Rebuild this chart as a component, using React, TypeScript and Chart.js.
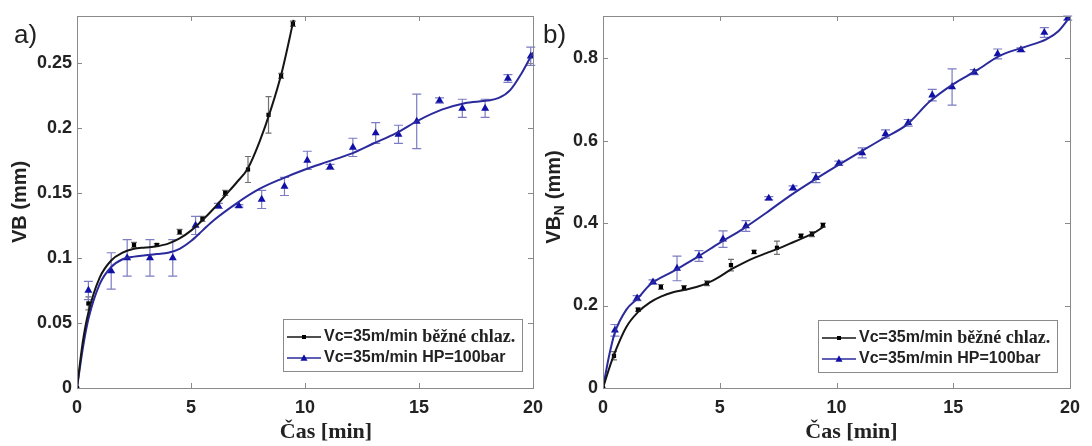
import React, { useEffect, useRef } from 'react';
import { Chart, registerables } from 'chart.js';

Chart.register(...registerables);

const SANS = "'Liberation Sans', Arial, Helvetica, sans-serif";
const SERIF = "'Liberation Serif', 'Times New Roman', serif";

// ---- text ----
const seriesNames = ['Vc=35m/min běžné chlaz.', 'Vc=35m/min HP=100bar'];
const xTitle = 'Čas [min]';
const aYTitle = ['VB', '', ' (mm)'];
const bYTitle = ['VB', 'N', ' (mm)'];
const panelLabels = ['a)', 'b)'];

// ---- ticks ----
const xTicks = [0, 5, 10, 15, 20];
const aYTicks = [0, 0.05, 0.1, 0.15, 0.2, 0.25];
const bYTicks = [0, 0.2, 0.4, 0.6, 0.8];

// ---- panel a: conventional cooling (black) ----
const aBlackX = [0, 0.5, 2.5, 3.5, 4.5, 5.5, 6.5, 7.5, 8.4, 8.95, 9.47];
const aBlackY = [0, 0.065, 0.11, 0.11, 0.12, 0.13, 0.15, 0.168, 0.21, 0.24, 0.28];
const aBlackErr = [0, 0.005, 0.002, 0.001, 0.002, 0.002, 0.002, 0.01, 0.014, 0.002, 0.002];
const aBlackFitX = [0, 0.25, 0.5, 1, 1.5, 2, 2.5, 3, 3.5, 4, 4.5, 5, 5.5, 6, 6.5, 7, 7.5, 8, 8.5, 9, 9.5];
const aBlackFitY = [0, 0.035, 0.058, 0.085, 0.098, 0.104, 0.107, 0.108, 0.109, 0.111, 0.115, 0.121, 0.129, 0.138, 0.148, 0.158, 0.169, 0.189, 0.214, 0.244, 0.283];

// ---- panel a: HP=100bar (blue) ----
const aBlueX = [0, 0.5, 1.5, 2.2, 3.2, 4.2, 5.2, 6.2, 7.1, 8.1, 9.1, 10.1, 11.1, 12.1, 13.1, 14.1, 14.9, 15.9, 16.9, 17.9, 18.9, 19.9];
const aBlueY = [0, 0.075, 0.09, 0.1, 0.1, 0.1, 0.125, 0.14, 0.14, 0.145, 0.155, 0.175, 0.17, 0.185, 0.196, 0.195, 0.205, 0.221, 0.215, 0.215, 0.238, 0.255];
const aBlueErr = [0, 0.007, 0.014, 0.014, 0.014, 0.014, 0.007, 0.002, 0.001, 0.007, 0.007, 0.007, 0.002, 0.007, 0.008, 0.007, 0.021, 0.002, 0.007, 0.007, 0.003, 0.007];
const aBlueFitX = [0, 0.25, 0.5, 1, 1.5, 2, 2.5, 3, 3.5, 4, 4.5, 5, 5.5, 6, 7, 8, 9, 10, 11, 12, 13, 14, 15, 16, 17, 18, 18.5, 19, 19.5, 20];
const aBlueFitY = [0, 0.03, 0.053, 0.08, 0.093, 0.099, 0.101, 0.102, 0.103, 0.104, 0.107, 0.113, 0.121, 0.129, 0.142, 0.153, 0.161, 0.168, 0.174, 0.18, 0.188, 0.196, 0.206, 0.214, 0.219, 0.221, 0.223, 0.229, 0.242, 0.258];

// ---- panel b: conventional cooling (black) ----
const bBlackX = [0, 0.47, 1.5, 2.48, 3.47, 4.45, 5.48, 6.47, 7.45, 8.48, 8.95, 9.42];
const bBlackY = [0, 0.078, 0.19, 0.245, 0.243, 0.254, 0.298, 0.33, 0.34, 0.369, 0.373, 0.395];
const bBlackErr = [0, 0.01, 0.004, 0.006, 0.005, 0.006, 0.014, 0.004, 0.016, 0.004, 0.006, 0.005];
const bBlackFitX = [0, 0.25, 0.5, 1, 1.5, 2, 2.5, 3, 3.5, 4, 4.5, 5, 5.5, 6, 6.5, 7, 7.5, 8, 8.5, 9, 9.5];
const bBlackFitY = [0, 0.045, 0.085, 0.148, 0.184, 0.207, 0.222, 0.232, 0.238, 0.245, 0.255, 0.27, 0.288, 0.303, 0.316, 0.327, 0.338, 0.35, 0.362, 0.375, 0.393];

// ---- panel b: HP=100bar (blue) ----
const bBlueX = [0, 0.51, 1.46, 2.14, 3.17, 4.11, 5.14, 6.12, 7.1, 8.14, 9.12, 10.1, 11.1, 12.1, 13.07, 14.1, 14.95, 15.9, 16.9, 17.9, 18.9, 19.9];
const bBlueY = [0, 0.14, 0.218, 0.257, 0.29, 0.32, 0.361, 0.393, 0.46, 0.485, 0.51, 0.545, 0.57, 0.616, 0.643, 0.71, 0.73, 0.766, 0.81, 0.82, 0.862, 0.897];
const bBlueErr = [0, 0.014, 0.006, 0.005, 0.03, 0.013, 0.02, 0.013, 0.004, 0.005, 0.012, 0.005, 0.012, 0.01, 0.008, 0.014, 0.044, 0.006, 0.012, 0.005, 0.012, 0.005];
const bBlueFitX = [0, 0.25, 0.5, 1, 1.5, 2, 3, 4, 5, 6, 7, 8, 9, 10, 11, 12, 13, 14, 15, 16, 17, 18, 19, 19.5, 20];
const bBlueFitY = [0, 0.075, 0.133, 0.19, 0.218, 0.25, 0.283, 0.316, 0.352, 0.386, 0.425, 0.466, 0.503, 0.538, 0.572, 0.605, 0.638, 0.695, 0.737, 0.77, 0.806, 0.826, 0.846, 0.865, 0.9];

// ---- styling ----
const BLACK_LINE = '#151515';
const BLUE_LINE = '#2a2a9c';
const BLUE_MARK = '#1010a8';
const BLUE_ERR = '#7c7cc2';
const BLACK_ERR = '#707070';
const AXIS_GRAY = '#8a8a8a';
const TEXT = '#222222';

const zip = (xs: number[], ys: number[]) => xs.map((x, i) => ({ x, y: ys[i] }));

function drawMarker(ctx: CanvasRenderingContext2D, kind: string, cx: number, cy: number, r: number, color: string) {
  ctx.save();
  ctx.fillStyle = color;
  ctx.beginPath();
  if (kind === 'rect') {
    ctx.rect(cx - r, cy - r, 2 * r, 2 * r);
  } else {
    ctx.moveTo(cx, cy - r * 1.1);
    ctx.lineTo(cx + r, cy + r * 0.75);
    ctx.lineTo(cx - r, cy + r * 0.75);
    ctx.closePath();
  }
  ctx.fill();
  ctx.restore();
}

const decor = {
  id: 'decor',
  beforeDatasetsDraw(chart: any) {
    const ctx = chart.ctx as CanvasRenderingContext2D;
    const xs = chart.scales.x;
    const ys = chart.scales.y;
    chart.data.datasets.forEach((ds: any) => {
      if (!ds.errors) return;
      ctx.save();
      ctx.strokeStyle = ds.errorColor;
      ctx.lineWidth = 1.2;
      ds.data.forEach((p: any, j: number) => {
        const e = ds.errors[j];
        if (!e) return;
        const px = xs.getPixelForValue(p.x);
        const y1 = ys.getPixelForValue(p.y - e);
        const y2 = ys.getPixelForValue(p.y + e);
        const c = ds.capHalf;
        ctx.beginPath();
        ctx.moveTo(px, y1);
        ctx.lineTo(px, y2);
        ctx.moveTo(px - c, y1);
        ctx.lineTo(px + c, y1);
        ctx.moveTo(px - c, y2);
        ctx.lineTo(px + c, y2);
        ctx.stroke();
      });
      ctx.restore();
    });
  },
  afterDraw(chart: any, _args: any, opts: any) {
    const ctx = chart.ctx as CanvasRenderingContext2D;
    const a = chart.chartArea;
    const xs = chart.scales.x;
    const ys = chart.scales.y;
    ctx.save();
    // box
    ctx.strokeStyle = AXIS_GRAY;
    ctx.lineWidth = 1;
    ctx.strokeRect(Math.round(a.left) + 0.5, Math.round(a.top) + 0.5, Math.round(a.right - a.left), Math.round(a.bottom - a.top));
    // inward ticks
    const tl = 5;
    ctx.beginPath();
    xs.ticks.forEach((t: any) => {
      const px = Math.round(xs.getPixelForValue(t.value)) + 0.5;
      ctx.moveTo(px, a.bottom);
      ctx.lineTo(px, a.bottom - tl);
      ctx.moveTo(px, a.top);
      ctx.lineTo(px, a.top + tl);
    });
    ys.ticks.forEach((t: any) => {
      const py = Math.round(ys.getPixelForValue(t.value)) + 0.5;
      ctx.moveTo(a.left, py);
      ctx.lineTo(a.left + tl, py);
      ctx.moveTo(a.right, py);
      ctx.lineTo(a.right - tl, py);
    });
    ctx.stroke();

    // panel label
    ctx.fillStyle = TEXT;
    ctx.font = `26px ${SANS}`;
    ctx.textBaseline = 'alphabetic';
    ctx.textAlign = 'left';
    ctx.fillText(opts.label, opts.labelX, 43);

    // x title
    ctx.font = `bold 22px ${SERIF}`;
    ctx.textAlign = 'center';
    ctx.textBaseline = 'middle';
    ctx.fillText(xTitle, (a.left + a.right) / 2 + opts.xTitleShift, 432);

    // y title (rotated, with optional subscript)
    const [main, sub, rest] = opts.yTitle as string[];
    const mainFont = `bold 20px ${SANS}`;
    const subFont = `bold 14px ${SANS}`;
    ctx.font = mainFont;
    const w1 = ctx.measureText(main).width;
    const w3 = ctx.measureText(rest).width;
    ctx.font = subFont;
    const w2 = sub ? ctx.measureText(sub).width + 1 : 0;
    const total = w1 + w2 + w3;
    ctx.translate(opts.yTitleX, opts.yTitleY);
    ctx.rotate(-Math.PI / 2);
    ctx.textAlign = 'left';
    ctx.textBaseline = 'middle';
    let cx = -total / 2;
    ctx.font = mainFont;
    ctx.fillText(main, cx, 0);
    cx += w1;
    if (sub) {
      ctx.font = subFont;
      ctx.fillText(sub, cx + 0.5, 6);
      cx += w2;
    }
    ctx.font = mainFont;
    ctx.fillText(rest, cx, 0);
    ctx.setTransform(1, 0, 0, 1, 0, 0);

    // legend
    const lw = 239;
    const lh = 52;
    const lx = Math.round(a.right - opts.legendRight - lw);
    const ly = Math.round(a.bottom - opts.legendBottom - lh);
    ctx.fillStyle = '#ffffff';
    ctx.fillRect(lx, ly, lw, lh);
    ctx.strokeStyle = AXIS_GRAY;
    ctx.lineWidth = 1;
    ctx.strokeRect(lx + 0.5, ly + 0.5, lw, lh);
    const entries = chart.data.datasets.filter((d: any) => d.inLegend);
    entries.forEach((d: any, i: number) => {
      const ry = ly + 18 + i * 21;
      ctx.strokeStyle = d.legendLine;
      ctx.lineWidth = 1.6;
      ctx.beginPath();
      ctx.moveTo(lx + 4, ry);
      ctx.lineTo(lx + 38, ry);
      ctx.stroke();
      drawMarker(ctx, d.marker, lx + 21, ry, d.marker === 'rect' ? 2 : 3.5, d.marker === 'rect' ? '#000' : BLUE_MARK);
      const label: string = d.label;
      ctx.fillStyle = TEXT;
      ctx.textAlign = 'left';
      ctx.textBaseline = 'middle';
      const tx = lx + 41;
      const k = label.indexOf('běžné');
      if (k >= 0) {
        const p1 = label.slice(0, k);
        const p2 = label.slice(k);
        ctx.font = `bold 16px ${SANS}`;
        ctx.fillText(p1, tx, ry);
        const pw = ctx.measureText(p1).width;
        ctx.font = `bold 18px ${SERIF}`;
        ctx.fillText(p2, tx + pw, ry);
      } else {
        ctx.font = `bold 16px ${SANS}`;
        ctx.fillText(label, tx, ry);
      }
    });
    ctx.restore();
  },
};

type PanelCfg = {
  key: string;
  left: number;
  width: number;
  padRight: number;
  yAxisWidth: number;
  yMax: number;
  yTicks: number[];
  label: string;
  labelX: number;
  yTitle: string[];
  yTitleX: number;
  yTitleY: number;
  xTitleShift: number;
  legendRight: number;
  legendBottom: number;
  black: { x: number[]; y: number[]; e: number[]; fx: number[]; fy: number[] };
  blue: { x: number[]; y: number[]; e: number[]; fx: number[]; fy: number[] };
};

const panels: PanelCfg[] = [
  {
    key: 'a', left: 0, width: 560, padRight: 27, yAxisWidth: 77, yMax: 0.286, yTicks: aYTicks,
    label: panelLabels[0], labelX: 14, yTitle: aYTitle, yTitleX: 20, yTitleY: 202, xTitleShift: 21,
    legendRight: 11, legendBottom: 17,
    black: { x: aBlackX, y: aBlackY, e: aBlackErr, fx: aBlackFitX, fy: aBlackFitY },
    blue: { x: aBlueX, y: aBlueY, e: aBlueErr, fx: aBlueFitX, fy: aBlueFitY },
  },
  {
    key: 'b', left: 530, width: 562, padRight: 22, yAxisWidth: 73, yMax: 0.902, yTicks: bYTicks,
    label: panelLabels[1], labelX: 13, yTitle: bYTitle, yTitleX: 24, yTitleY: 197, xTitleShift: 15,
    legendRight: 13, legendBottom: 16,
    black: { x: bBlackX, y: bBlackY, e: bBlackErr, fx: bBlackFitX, fy: bBlackFitY },
    blue: { x: bBlueX, y: bBlueY, e: bBlueErr, fx: bBlueFitX, fy: bBlueFitY },
  },
];

function buildConfig(cfg: PanelCfg): any {
  const tickFont = { family: SANS, size: 18, weight: 'bold' as const };
  return {
    type: 'scatter',
    data: {
      datasets: [
        {
          label: 'fit-black', data: zip(cfg.black.fx, cfg.black.fy), showLine: true, borderColor: BLACK_LINE,
          borderWidth: 2, pointRadius: 0, cubicInterpolationMode: 'monotone', fill: false,
        },
        {
          label: 'fit-blue', data: zip(cfg.blue.fx, cfg.blue.fy), showLine: true, borderColor: BLUE_LINE,
          borderWidth: 2, pointRadius: 0, cubicInterpolationMode: 'monotone', fill: false,
        },
        {
          label: seriesNames[0], data: zip(cfg.black.x, cfg.black.y), showLine: false, pointStyle: 'rect',
          pointRadius: 3, backgroundColor: '#000', borderColor: '#000', borderWidth: 0,
          errors: cfg.black.e, errorColor: BLACK_ERR, capHalf: 3, inLegend: true, legendLine: BLACK_LINE, marker: 'rect',
        },
        {
          label: seriesNames[1], data: zip(cfg.blue.x, cfg.blue.y), showLine: false, pointStyle: 'triangle',
          pointRadius: 4.6, backgroundColor: BLUE_MARK, borderColor: BLUE_MARK, borderWidth: 0,
          errors: cfg.blue.e, errorColor: BLUE_ERR, capHalf: 4.5, inLegend: true, legendLine: BLUE_LINE, marker: 'tri',
        },
      ],
    },
    options: {
      animation: false,
      responsive: false,
      devicePixelRatio: 1,
      layout: { padding: { left: 0, right: cfg.padRight, top: 16, bottom: 0 } },
      scales: {
        x: {
          type: 'linear', min: 0, max: 20,
          afterBuildTicks: (s: any) => { s.ticks = xTicks.map((v) => ({ value: v })); },
          afterFit: (s: any) => { s.height = 58; },
          grid: { display: false, drawTicks: false },
          border: { display: false },
          ticks: { font: tickFont, color: TEXT, padding: 9, maxRotation: 0, autoSkip: false, callback: (v: any) => String(v) },
        },
        y: {
          type: 'linear', min: 0, max: cfg.yMax,
          afterBuildTicks: (s: any) => { s.ticks = cfg.yTicks.map((v) => ({ value: v })); },
          afterFit: (s: any) => { s.width = cfg.yAxisWidth; },
          grid: { display: false, drawTicks: false },
          border: { display: false },
          ticks: { font: tickFont, color: TEXT, padding: 5, autoSkip: false, callback: (v: any) => String(v) },
        },
      },
      plugins: {
        legend: { display: false },
        tooltip: { enabled: false },
        decor: {
          label: cfg.label, labelX: cfg.labelX, yTitle: cfg.yTitle, yTitleX: cfg.yTitleX, yTitleY: cfg.yTitleY,
          xTitleShift: cfg.xTitleShift, legendRight: cfg.legendRight, legendBottom: cfg.legendBottom,
        },
      },
    },
    plugins: [decor],
  };
}

function Panel({ cfg }: { cfg: PanelCfg }) {
  const ref = useRef<HTMLCanvasElement>(null);
  useEffect(() => {
    const chart = new Chart(ref.current as HTMLCanvasElement, buildConfig(cfg));
    return () => chart.destroy();
  }, [cfg]);
  return (
    <canvas
      ref={ref}
      width={cfg.width}
      height={446}
      style={{ position: 'absolute', left: cfg.left, top: 0, width: cfg.width, height: 446 }}
    />
  );
}

export default function App() {
  return (
    <div style={{ position: 'fixed', left: 0, top: 0, width: 1092, height: 446, background: '#ffffff', overflow: 'hidden' }}>
      {panels.map((p) => (
        <Panel key={p.key} cfg={p} />
      ))}
    </div>
  );
}
